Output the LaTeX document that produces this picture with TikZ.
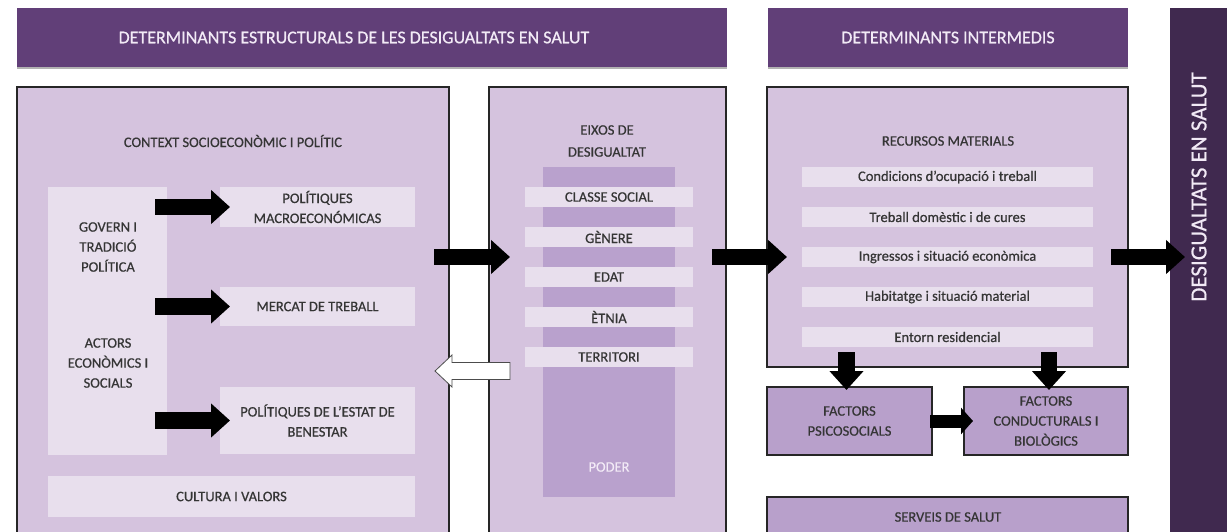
\documentclass[tikz,border=0pt]{standalone}
\usepackage{fontspec}
\setmainfont{Carlito}[FakeBold=0.6]
\usetikzlibrary{arrows.meta,shadows,calc}
\definecolor{hdr}{HTML}{613F78}
\definecolor{darkbar}{HTML}{40294F}
\definecolor{boxfill}{HTML}{D5C3DE}
\definecolor{stripc}{HTML}{E8DFED}
\definecolor{colc}{HTML}{B9A1CD}
\definecolor{facc}{HTML}{B8A0CB}
\definecolor{txt}{HTML}{353535}
\definecolor{htxt}{HTML}{F2EAF6}
\newcommand\bx[7]{\node[#1, minimum width={(#5-#3)*1pt}, minimum height={(#6-#4)*1pt}] (#2) at ({(#3+#5)/2},{(#4+#6)/2}) {#7};}
\begin{document}
\begin{tikzpicture}[x=1pt,y=-1pt,
  every node/.style={inner sep=0pt, outer sep=0pt},
  bigbox/.style={draw=black!85, line width=1.3pt, fill=boxfill},
  facbox/.style={draw=black!85, line width=1.3pt, fill=facc, text=txt, align=center, font=\fontsize{14.5}{20}\selectfont},
  hdrbox/.style={fill=hdr, drop shadow={shadow xshift=0pt, shadow yshift=-2pt, opacity=0.6}},
  htext/.style={text=htxt, font=\fontsize{18}{22}\selectfont},
  stripbox/.style={fill=stripc, text=txt, align=center, font=\fontsize{14.5}{20}\selectfont},
  lbl/.style={text=txt, align=center, font=\fontsize{14.5}{21}\selectfont},
  blk/.style={line width=16.5pt, black, -{Triangle[length=19pt,width=33pt]}},
  blks/.style={line width=13pt, black, -{Triangle[length=12pt,width=26pt]}},
  warrow/.style={draw=black!70, line width=0.8pt, fill=white}
]
\useasboundingbox (0,0) rectangle (1227,532);
\fill[white] (0,0) rectangle (1227,532);
\clip (0,0) rectangle (1227,532);

% headers
\bx{hdrbox}{h1}{17}{8}{727}{67}{}
\node[htext] (h1t) at (354,37.5) {DETERMINANTS ESTRUCTURALS DE LES DESIGUALTATS EN SALUT};
\bx{hdrbox}{h2}{768}{8}{1128}{67}{}
\node[htext] (h2t) at (948,37.5) {DETERMINANTS INTERMEDIS};
\bx{fill=darkbar}{bar}{1170}{8}{1235}{545}{}
\node[text=htxt, rotate=90, font=\fontsize{23}{26}\selectfont] (barlbl) at (1199,187) {DESIGUALTATS EN SALUT};

% left box
\bx{bigbox}{ctx}{17}{87}{449}{548}{}
\node[lbl] (ctxt) at (233,141) {CONTEXT SOCIOECONÒMIC I POLÍTIC};
\bx{stripbox}{gov}{48}{187}{167}{455}{}
\node[lbl, font=\fontsize{14.5}{20}\selectfont] (govt) at (108,247) {GOVERN I\\TRADICIÓ\\POLÍTICA};
\node[lbl, font=\fontsize{14.5}{20}\selectfont] (act) at (108,363) {ACTORS\\ECONÒMICS I\\SOCIALS};
\bx{stripbox}{mac}{220}{187}{415}{227}{POLÍTIQUES\\MACROECONÓMICAS}
\bx{stripbox}{mer}{220}{287}{415}{326}{MERCAT DE TREBALL}
\bx{stripbox}{ben}{220}{387}{415}{454}{POLÍTIQUES DE L’ESTAT DE\\BENESTAR}
\bx{stripbox}{cul}{48}{476}{415}{517}{CULTURA I VALORS}

\draw[blk] ([xshift=-12pt]gov.east |- mac.west) -- ([xshift=10pt]mac.west);
\draw[blk] ([xshift=-12pt]gov.east |- mer.west) -- ([xshift=10pt]mer.west);
\draw[blk] ([xshift=-12pt]gov.east |- ben.west) -- ([xshift=10pt]ben.west);

% middle box
\bx{bigbox}{eix}{489}{87}{726}{548}{}
\node[lbl, font=\fontsize{14.5}{22}\selectfont] (eixt) at (607,141) {EIXOS DE\\DESIGUALTAT};
\bx{fill=colc}{pod}{543}{167}{675}{497}{}
\node[text=htxt, font=\fontsize{14.5}{18}\selectfont] (podt) at (609,467) {PODER};
\bx{stripbox}{cla}{525}{187}{693}{207}{CLASSE SOCIAL}
\bx{stripbox}{gen}{525}{227}{693}{247}{GÈNERE}
\bx{stripbox}{eda}{525}{267}{693}{287}{EDAT}
\bx{stripbox}{etn}{525}{307}{693}{327}{ÈTNIA}
\bx{stripbox}{ter}{525}{347}{693}{367}{TERRITORI}

% right box
\bx{bigbox}{rec}{767}{87}{1128}{367}{}
\node[lbl] (rect) at (948,141) {RECURSOS MATERIALS};
\bx{stripbox}{con1}{802}{167}{1093}{187}{Condicions d’ocupació i treball}
\bx{stripbox}{tre}{802}{207}{1093}{227}{Treball domèstic i de cures}
\bx{stripbox}{ing}{802}{247}{1093}{267}{Ingressos i situació econòmica}
\bx{stripbox}{hab}{802}{287}{1093}{307}{Habitatge i situació material}
\bx{stripbox}{ent}{802}{327}{1093}{347}{Entorn residencial}

\bx{facbox}{psi}{767}{387}{932}{455}{FACTORS\\PSICOSOCIALS}
\bx{facbox}{cdb}{964}{387}{1128}{455}{FACTORS\\CONDUCTURALS I\\BIOLÒGICS}
\bx{facbox}{ser}{767}{497}{1128}{548}{}
\node[lbl] (sert) at (948,517) {SERVEIS DE SALUT};

% main arrows
\draw[blk] ([xshift=-15pt]ctx.east |- ing.center) -- ([xshift=21pt]eix.west |- ing.center);
\draw[blk] ([xshift=-14pt]eix.east |- ing.center) -- ([xshift=20pt]rec.west |- ing.center);
\draw[blk] ([xshift=-17pt]rec.east |- ing.center) -- ([xshift=15pt]bar.west |- ing.center);
\draw[blk] ([xshift=-3pt,yshift=15pt]psi.north |- rec.south) -- ([xshift=-3pt,yshift=-3pt]psi.north);
\draw[blk] ([xshift=3pt,yshift=15pt]cdb.north |- rec.south) -- ([xshift=3pt,yshift=-3pt]cdb.north);
\draw[blks] ([xshift=-2pt]psi.east) -- ([xshift=9pt]cdb.west);

% white feedback arrow
\coordinate (wa) at ([xshift=21pt,yshift=-4pt]eix.west |- ter.south);
\coordinate (wb) at ([xshift=-14pt]ctx.east |- wa);
\draw[warrow] ($(wa)+(0,-8.5)$) -- ++(-58,0) -- ++(0,-7.5) -- (wb) -- ++(17,16) -- ++(0,-7.5) -- ++(58,0) -- cycle;
\end{tikzpicture}
\end{document}
